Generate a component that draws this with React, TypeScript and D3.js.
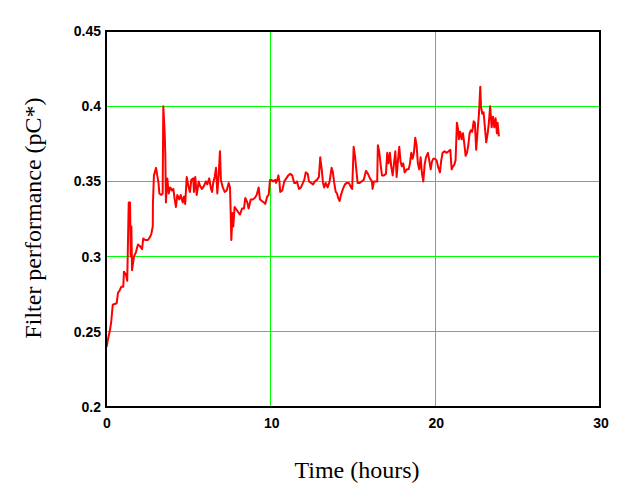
import React from "react";
import { scaleLinear, line } from "d3";

// time (hours)
const hours = [
  0.04, 0.12, 0.24, 0.32, 0.41, 0.65, 0.73, 0.81, 0.93, 1.05, 1.09, 1.21, 1.29, 1.38, 1.46, 1.5, 1.54, 1.58,
  1.7, 1.82, 1.94, 2.06, 2.19, 2.26, 2.39, 2.55, 2.67, 2.75, 2.84, 2.85, 2.91, 3.04, 3.11, 3.18, 3.24, 3.36,
  3.44, 3.48, 3.56, 3.6, 3.64, 3.72, 3.81, 3.89, 4.01, 4.09, 4.17, 4.25, 4.33, 4.45, 4.54, 4.66, 4.74, 4.81,
  4.9, 5.02, 5.1, 5.18, 5.3, 5.34, 5.42, 5.51, 5.63, 5.71, 5.83, 5.95, 6.07, 6.15, 6.27, 6.36, 6.44, 6.51,
  6.6, 6.68, 6.76, 6.84, 6.92, 6.98, 7.09, 7.21, 7.33, 7.45, 7.53, 7.57, 7.61, 7.69, 7.73, 7.81, 7.94, 8.06,
  8.14, 8.26, 8.38, 8.46, 8.58, 8.66, 8.79, 8.91, 9.03, 9.15, 9.27, 9.35, 9.47, 9.59, 9.67, 9.79, 9.88, 9.96,
  10.04, 10.16, 10.28, 10.32, 10.4, 10.47, 10.53, 10.58, 10.7, 10.83, 10.95, 11.07, 11.19, 11.31, 11.43,
  11.52, 11.6, 11.72, 11.84, 11.96, 12.04, 12.13, 12.25, 12.33, 12.45, 12.57, 12.69, 12.81, 12.93, 13.01,
  13.1, 13.18, 13.25, 13.34, 13.46, 13.58, 13.7, 13.78, 13.86, 13.95, 14.03, 14.1, 14.19, 14.27, 14.39,
  14.51, 14.63, 14.75, 14.88, 14.95, 15.04, 15.12, 15.2, 15.28, 15.4, 15.53, 15.65, 15.79, 15.91, 16.03,
  16.15, 16.19, 16.27, 16.39, 16.47, 16.51, 16.59, 16.68, 16.76, 16.88, 17.0, 17.08, 17.16, 17.24, 17.32,
  17.41, 17.49, 17.57, 17.65, 17.73, 17.81, 17.89, 17.97, 18.05, 18.14, 18.26, 18.38, 18.46, 18.54, 18.62,
  18.7, 18.78, 18.86, 18.94, 19.02, 19.11, 19.19, 19.27, 19.35, 19.43, 19.55, 19.63, 19.72, 19.79, 19.87,
  19.99, 20.08, 20.16, 20.28, 20.36, 20.44, 20.56, 20.69, 20.81, 20.91, 20.99, 21.07, 21.15, 21.23, 21.31,
  21.39, 21.43, 21.51, 21.6, 21.68, 21.76, 21.84, 21.92, 22.0, 22.08, 22.16, 22.24, 22.33, 22.4, 22.48,
  22.57, 22.65, 22.73, 22.77, 22.85, 22.93, 23.01, 23.09, 23.18, 23.25, 23.33, 23.42, 23.5, 23.58, 23.66,
  23.74, 23.78, 23.86,
];

// filter performance (pC*)
const performance = [
  0.24, 0.245, 0.251, 0.257, 0.268, 0.269, 0.276, 0.277, 0.28, 0.28, 0.29, 0.288, 0.284, 0.336, 0.336, 0.3,
  0.32, 0.291, 0.3, 0.303, 0.308, 0.307, 0.305, 0.312, 0.311, 0.311, 0.313, 0.315, 0.32, 0.335, 0.354, 0.359,
  0.354, 0.35, 0.342, 0.341, 0.342, 0.4, 0.383, 0.369, 0.336, 0.352, 0.342, 0.346, 0.344, 0.345, 0.338,
  0.333, 0.341, 0.338, 0.341, 0.336, 0.34, 0.335, 0.353, 0.346, 0.343, 0.351, 0.352, 0.343, 0.353, 0.341,
  0.35, 0.347, 0.345, 0.347, 0.35, 0.348, 0.352, 0.346, 0.343, 0.349, 0.353, 0.359, 0.342, 0.354, 0.37,
  0.351, 0.346, 0.343, 0.344, 0.349, 0.346, 0.33, 0.311, 0.329, 0.32, 0.333, 0.331, 0.329, 0.328, 0.332,
  0.332, 0.339, 0.336, 0.332, 0.338, 0.338, 0.339, 0.341, 0.346, 0.338, 0.337, 0.336, 0.335, 0.34, 0.341,
  0.351, 0.351, 0.35, 0.351, 0.349, 0.351, 0.354, 0.35, 0.343, 0.344, 0.35, 0.352, 0.354, 0.355, 0.354,
  0.349, 0.349, 0.35, 0.345, 0.346, 0.349, 0.351, 0.356, 0.355, 0.35, 0.349, 0.348, 0.35, 0.351, 0.353,
  0.366, 0.358, 0.349, 0.346, 0.349, 0.346, 0.35, 0.359, 0.356, 0.349, 0.343, 0.342, 0.339, 0.337, 0.341,
  0.345, 0.348, 0.349, 0.349, 0.346, 0.345, 0.373, 0.367, 0.358, 0.349, 0.349, 0.35, 0.351, 0.357, 0.355,
  0.352, 0.35, 0.345, 0.35, 0.35, 0.35, 0.374, 0.37, 0.361, 0.354, 0.354, 0.355, 0.369, 0.362, 0.369, 0.36,
  0.354, 0.362, 0.37, 0.353, 0.364, 0.373, 0.363, 0.36, 0.362, 0.356, 0.358, 0.358, 0.362, 0.369, 0.365,
  0.369, 0.379, 0.374, 0.362, 0.358, 0.366, 0.355, 0.35, 0.361, 0.366, 0.369, 0.364, 0.358, 0.363, 0.365,
  0.365, 0.364, 0.36, 0.356, 0.364, 0.369, 0.37, 0.369, 0.37, 0.371, 0.358, 0.36, 0.361, 0.364, 0.389,
  0.384, 0.378, 0.383, 0.378, 0.382, 0.375, 0.367, 0.369, 0.374, 0.382, 0.384, 0.383, 0.39, 0.389, 0.371,
  0.384, 0.395, 0.413, 0.4, 0.395, 0.396, 0.386, 0.376, 0.382, 0.389, 0.4, 0.386, 0.393, 0.386, 0.392,
  0.382, 0.389, 0.38,
];

const xTicks = [0, 10, 20, 30];
const yTicks = [0.2, 0.25, 0.3, 0.35, 0.4, 0.45];

const W = 633;
const H = 497;
const margin = { top: 31, right: 33, bottom: 90, left: 106 };

export default function App() {
  const x = scaleLinear().domain([0, 30]).range([margin.left, W - margin.right]);
  const y = scaleLinear().domain([0.2, 0.45]).range([H - margin.bottom, margin.top]);

  const pts = hours.map((h, i) => [h, performance[i]] as [number, number]);
  const path = line<[number, number]>()
    .x((d) => x(d[0]))
    .y((d) => y(d[1]))(pts);

  const tickFont = { fontFamily: "Liberation Sans, Arial, sans-serif", fontWeight: "bold", fontSize: 14 };
  const titleFont = { fontFamily: "Liberation Serif, Times New Roman, serif", fontSize: 24 };

  return (
    <svg width={W} height={H} style={{ position: "absolute", left: 0, top: 0, background: "#fff" }}>
      {/* grid */}
      <g shapeRendering="crispEdges">
        {xTicks.slice(1, -1).map((t) => (
          <line key={"gx" + t} x1={x(t)} x2={x(t)} y1={y(0.2)} y2={y(0.45)} stroke="#00ff00" strokeWidth={1} />
        ))}
        {yTicks.slice(1, -1).map((t) => (
          <line key={"gy" + t} x1={x(0)} x2={x(30)} y1={y(t)} y2={y(t)} stroke="#00ff00" strokeWidth={1} />
        ))}
      </g>

      <path d={path ?? ""} fill="none" stroke="#ff0000" strokeWidth={2} strokeLinejoin="round" />

      {/* frame */}
      <rect
        x={x(0)}
        y={y(0.45)}
        width={x(30) - x(0)}
        height={y(0.2) - y(0.45)}
        fill="none"
        stroke="#000"
        strokeWidth={2}
        shapeRendering="crispEdges"
      />

      {/* tick labels */}
      {yTicks.map((t) => (
        <text key={"ty" + t} x={x(0) - 5} y={y(t) + 5} textAnchor="end" {...tickFont}>
          {String(t)}
        </text>
      ))}
      {xTicks.map((t) => (
        <text key={"tx" + t} x={x(t) + 1} y={y(0.2) + 21} textAnchor="middle" {...tickFont}>
          {String(t)}
        </text>
      ))}

      {/* axis titles */}
      <text x={357} y={478} textAnchor="middle" {...titleFont}>
        Time (hours)
      </text>
      <text transform="translate(41,218) rotate(-90)" textAnchor="middle" {...titleFont}>
        Filter performance (pC*)
      </text>
    </svg>
  );
}
